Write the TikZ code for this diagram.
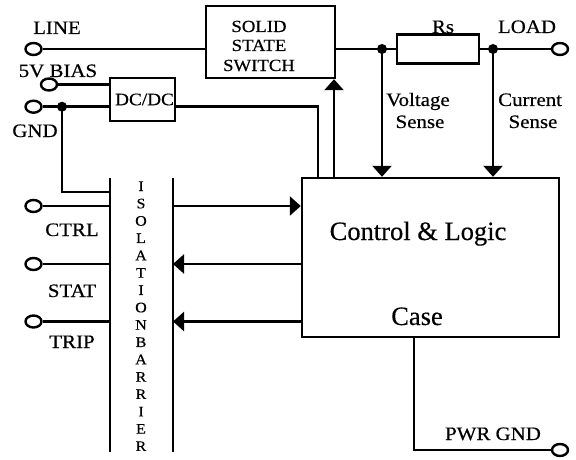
\documentclass[tikz,border=0pt]{standalone}
\usepackage{fontspec}
\setmainfont[FakeStretch=1.1,FakeBold=0.5]{Liberation Serif}
\newfontfamily\bigfont[FakeBold=0.4]{Liberation Serif}
\usetikzlibrary{arrows.meta,shapes.geometric}
\tikzset{
  wire/.style={line width=2.4pt},
  term/.style={draw, ellipse, line width=2.4pt, minimum width=16pt, minimum height=12pt, inner sep=0pt, fill=white},
  junc/.style={circle, fill=black, minimum size=10pt, inner sep=0pt},
  blk/.style={draw, line width=2.4pt, inner sep=0pt},
  lbl/.style={font=\fontsize{19}{22}\selectfont, inner sep=0pt, anchor=base},
  ssslbl/.style={font=\fontsize{17}{19}\selectfont, inner sep=0pt, anchor=base},
  biglbl/.style={font=\bigfont\fontsize{26.5}{30}\selectfont, inner sep=0pt, anchor=base},
  barlbl/.style={font=\fontsize{14.5}{16}\selectfont, inner sep=0pt, anchor=base},
  arr/.style={wire, -{Triangle[length=11pt,width=19pt]}},
}
\begin{document}
\begin{tikzpicture}[x=1pt,y=-1pt]
\useasboundingbox (0,0) rectangle (576,460);
% blocks
\node[blk, minimum width=129pt, minimum height=72pt] (sss) at (270.5,42) {};
\node[blk, minimum width=82pt, minimum height=29pt] (rs) at (438,49) {};
\node[blk, minimum width=65pt, minimum height=43pt, font=\fontsize{17.5}{20}\selectfont] (dcdc) at (142.5,99.5) {\hspace*{4pt}DC/DC};
\node[blk, minimum width=257pt, minimum height=159pt] (cl) at (430.5,257.5) {};
% barrier
\coordinate (bl1) at (110,178);
\coordinate (bl2) at (110,452);
\coordinate (br1) at (173,178);
\coordinate (br2) at (173,452);
\draw[wire] (bl1) -- (bl2);
\draw[wire] (br1) -- (br2);
% terminals
\node[term] (line) at (33.5,49) {};
\node[term] (bias) at (49,84.5) {};
\node[term] (gnd) at (33.5,106.7) {};
\node[term] (ctrl) at (33.5,206) {};
\node[term] (stat) at (33.5,264) {};
\node[term] (trip) at (33.5,321.5) {};
\node[term] (load) at (560,49) {};
\node[term] (pgnd) at (560,450) {};
% junctions
\node[junc] (vj) at (382,49) {};
\node[junc] (cj) at (493,49) {};
\node[junc] (gj) at (62,106.7) {};
\coordinate (gb) at (62,192);
\coordinate (dout) at (318,106.7);
\coordinate (sa) at (334,178);
\coordinate (cx) at (414,450);
% wires
\draw[wire] (line) -- (line -| sss.west);
\draw[wire] (sss.east |- vj) -- (vj.center) -- (rs.west);
\draw[wire] (rs.east) -- (cj.center) -- (load);
\draw[arr] (vj.center) -- (vj.center |- cl.north);
\draw[arr] (cj.center) -- (cj.center |- cl.north);
\draw[arr] (sa) -- (sa |- sss.south);
\draw[wire] (bias) -- (bias -| dcdc.west);
\draw[wire] (gnd) -- (gj.center) -- (gj.center -| dcdc.west);
\draw[wire] (gj.center) -- (gb) -- (gb -| bl1);
\draw[wire] (dcdc.east |- dout) -- (dout) -- (dout |- cl.north);
\draw[wire] (ctrl) -- (ctrl -| bl1);
\draw[wire] (stat) -- (stat -| bl1);
\draw[wire] (trip) -- (trip -| bl1);
\draw[arr] (ctrl -| br1) -- (ctrl -| cl.west);
\draw[arr] (stat -| cl.west) -- (stat -| br1);
\draw[arr] (trip -| cl.west) -- (trip -| br1);
\draw[wire] (cl.south -| cx) |- (pgnd);
% labels
\node[lbl] (tline) at (57,34) {LINE};
\node[lbl] (tbias) at (58,77) {5V BIAS};
\node[lbl] (tgnd) at (35,137) {GND};
\node[lbl] (tctrl) at (72,236) {CTRL};
\node[lbl] (tstat) at (72,297) {STAT};
\node[lbl] (ttrip) at (72,348) {TRIP};
\node[lbl] (trs) at (443,33) {Rs};
\node[lbl] (tload) at (527,33) {LOAD};
\node[lbl] (tpgnd) at (493,440) {PWR GND};
\node[lbl, anchor=base west] (tvolt) at (386,106) {Voltage};
\node[lbl] (tvs) at (420,128) {Sense};
\node[lbl, anchor=base west] (tcur) at (498,106) {Current};
\node[lbl] (tcs) at (533,128) {Sense};
\node[ssslbl] (s1) at (259,32) {SOLID};
\node[ssslbl] (s2) at (259,51) {STATE};
\node[ssslbl] (s3) at (259,71) {SWITCH};
\node[biglbl] (tcl) at (418,240) {Control \& Logic};
\node[biglbl] (tcase) at (417,325) {Case};
\foreach \l [count=\i] in {I,S,O,L,A,T,I,O,N,B,A,R,R,I,E,R}
  \node[barlbl] (b\i) at (141,{191+17.33*(\i-1)}) {\l};
\end{tikzpicture}
\end{document}
